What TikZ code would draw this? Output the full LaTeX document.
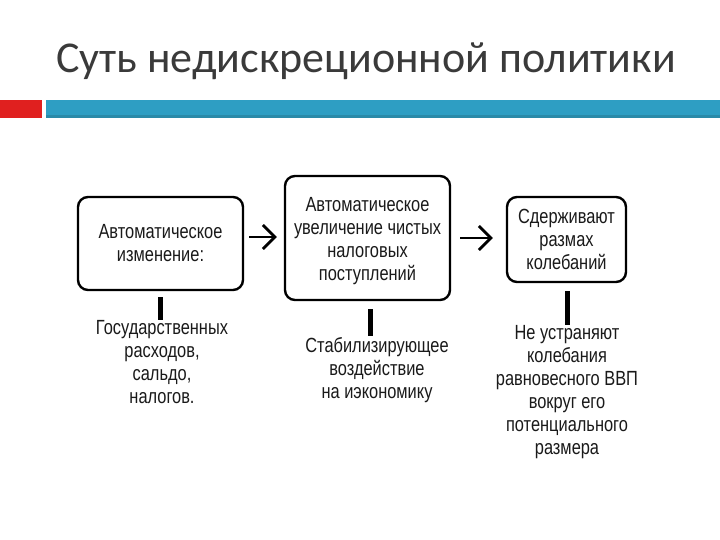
\documentclass[tikz,border=0pt]{standalone}
\usepackage{fontspec}
\setmainfont{Liberation Sans}
\newfontfamily\titlefont{Carlito}
\newfontfamily\diagfont[FakeStretch=0.8]{Liberation Sans}
\usetikzlibrary{arrows.meta}
\definecolor{barteal}{HTML}{2E9EC3}
\definecolor{bartealdark}{HTML}{2A8AA8}
\definecolor{barred}{HTML}{E0201F}
\definecolor{titlegray}{HTML}{3A3A3A}
\definecolor{diagtext}{HTML}{1A1A1A}
\tikzset{
  box/.style={draw, line width=2.4pt, rounded corners=10pt, inner sep=0pt},
  boxtext/.style={align=center, text=diagtext, font=\diagfont\fontsize{20.5}{23}\selectfont, inner sep=0pt},
  conn/.style={line width=2.8pt, -{Straight Barb[length=12pt,width=24pt,line width=2.8pt]}},
  stem/.style={line width=5pt}
}
\begin{document}
\begin{tikzpicture}[x=1pt,y=-1pt]
\useasboundingbox (0,0) rectangle (720,540);
\fill[white] (0,0) rectangle (720,540);
% title
\node[font=\titlefont\fontsize{44}{48}\selectfont, text=titlegray, anchor=base] (title) at (366,73) {Суть недискреционной политики};
% bars
\fill[barred] (0,100) rectangle (42,118);
\fill[barteal] (46,100) rectangle (720,118);
\fill[bartealdark] (46,115) rectangle (720,118);
% boxes
\node[box, minimum width=165pt, minimum height=93pt] (b1) at (160.5,243.5) {};
\node[box, minimum width=165pt, minimum height=124pt] (b2) at (367.5,238) {};
\node[box, minimum width=119pt, minimum height=85pt] (b3) at (566.5,239.5) {};
\node[boxtext] (b1t) at (b1.center) {Автоматическое\\изменение:};
\node[boxtext] (b2t) at ([yshift=-3.5pt]b2.center) {Автоматическое\\увеличение чистых\\налоговых\\поступлений};
\node[boxtext] (b3t) at (b3.center) {Сдерживают\\размах\\колебаний};
% arrows
\coordinate (a1s) at (249,237);
\coordinate (a2s) at (460,238);
\draw[conn] (a1s) -- ([xshift=-7pt]a1s -| b2.west) ;
\draw[conn] (a2s) -- ([xshift=-13pt]a2s -| b3.west);
% bottom texts
\node[boxtext, anchor=north] (t1) at (162,320) {Государственных\\расходов,\\сальдо,\\налогов.};
\node[boxtext, anchor=north] (t2) at (377,337) {Стабилизирующее\\воздействие\\на иэкономику};
\node[boxtext, anchor=north] (t3) at (567,325) {Не устраняют\\колебания\\равновесного ВВП\\вокруг его\\потенциального\\размера};
% stems
\draw[stem] ([yshift=-6pt]b1.south -| 160,0) -- (160,320);
\draw[stem] ([yshift=-8pt]b2.south -| 370,0) -- (370,336);
\draw[stem] ([yshift=-8pt]b3.south -| 567,0) -- (567,325);
\end{tikzpicture}
\end{document}
